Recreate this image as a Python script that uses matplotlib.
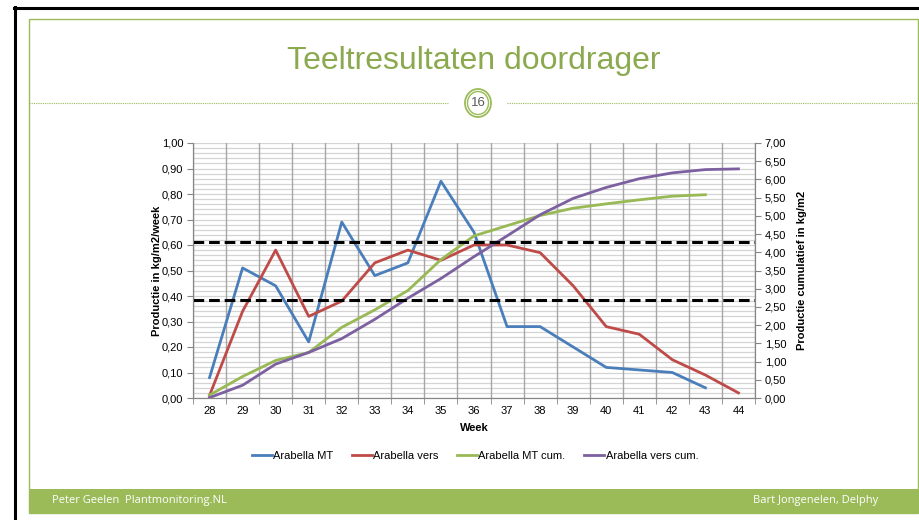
import numpy as np
import matplotlib.pyplot as plt
from matplotlib.patches import Rectangle, Ellipse
from matplotlib.lines import Line2D

# Données
weeks = [28, 29, 30, 31, 32, 33, 34, 35, 36, 37, 38, 39, 40, 41, 42, 43, 44]
mt = [0.08, 0.51, 0.44, 0.22, 0.69, 0.48, 0.53, 0.85, 0.65, 0.28, 0.28, 0.20, 0.12, 0.11, 0.10, 0.04]
vers = [0.01, 0.34, 0.58, 0.32, 0.38, 0.53, 0.58, 0.54, 0.60, 0.60, 0.57, 0.44, 0.28, 0.25, 0.15, 0.09, 0.02]
mt_cum = [0.08, 0.59, 1.03, 1.25, 1.94, 2.42, 2.95, 3.80, 4.45, 4.73, 5.01, 5.21, 5.33, 5.44, 5.54, 5.58]
vers_cum = [0.01, 0.35, 0.93, 1.25, 1.63, 2.16, 2.74, 3.28, 3.88, 4.45, 5.03, 5.48, 5.78, 6.02, 6.18, 6.27, 6.29]
ref_levels = [0.61, 0.385]   # lignes pointillées (axe gauche)

labels = ["Arabella MT", "Arabella vers", "Arabella MT cum.", "Arabella vers cum."]
colors = ["#4A7EBB", "#BE4B48", "#98B954", "#7D60A0"]

W, H = 919, 520
GREEN = "#9BBB59"
plt.rcParams['font.family'] = ['Liberation Sans', 'DejaVu Sans']

fig = plt.figure(figsize=(W/100, H/100), dpi=100)

def fx(x):
    return x / W

def fy(y):
    return 1 - y / H

# Cadre de la diapositive
fig.add_artist(Line2D([fx(14), 1], [fy(8), fy(8)], color="black", lw=2.2))
fig.add_artist(Line2D([fx(15), fx(15)], [fy(7), 0], color="black", lw=2.2))
fig.add_artist(Rectangle((fx(29), fy(513)), fx(918) - fx(29), fy(19.5) - fy(513),
                         fill=False, ec=GREEN, lw=1.0))
fig.add_artist(Rectangle((fx(29), fy(513)), fx(918) - fx(29), fy(489) - fy(513),
                         fc=GREEN, ec="none"))
fig.text(fx(52), fy(501), "Peter Geelen  Plantmonitoring.NL", color="white",
         fontsize=8, family=["Open Sans", "DejaVu Sans"], va="center")
fig.text(fx(878), fy(501), "Bart Jongenelen, Delphy", color="white",
         fontsize=8, family=["Open Sans", "DejaVu Sans"], va="center", ha="right")

# Titre
fig.text(fx(474), fy(61), "Teeltresultaten doordrager", color="#8BA94E", fontsize=23,
         ha="center", va="center")
fig.add_artist(Line2D([fx(29), fx(449)], [fy(103), fy(103)], color=GREEN, lw=0.8, ls=(0, (1, 1))))
fig.add_artist(Line2D([fx(507), fx(918)], [fy(103), fy(103)], color=GREEN, lw=0.8, ls=(0, (1, 1))))
fig.add_artist(Ellipse((fx(478), fy(103)), 26/W, 28/H, fill=False, ec=GREEN, lw=1.3))
fig.add_artist(Ellipse((fx(478), fy(103)), 21/W, 23/H, fill=False, ec=GREEN, lw=1.0))
fig.text(fx(478), fy(103), "16", color="#5A5A5A", fontsize=9.5, ha="center", va="center")

# Graphique
ax = fig.add_axes([fx(193), fy(398), fx(755) - fx(193), fy(143) - fy(398)])
ax2 = ax.twinx()

ax.set_xlim(27.5, 44.5)
ax.set_ylim(0, 1.0)
ax2.set_ylim(0, 7.0)

for y in np.arange(0, 1.001, 0.02):
    ax.axhline(y, color="#D4D4D4", lw=0.9, zorder=0)
for x in np.arange(27.5, 44.6, 1):
    ax.axvline(x, color="#A6A6A6", lw=1.0, zorder=0)

l1, = ax.plot(weeks[:len(mt)], mt, color=colors[0], lw=2)
l2, = ax.plot(weeks, vers, color=colors[1], lw=2)
l3, = ax2.plot(weeks[:len(mt_cum)], mt_cum, color=colors[2], lw=2)
l4, = ax2.plot(weeks, vers_cum, color=colors[3], lw=2)
for lev in ref_levels:
    ax2.axhline(lev * 7, color="black", lw=2.2, ls=(0, (3.5, 1.6)))

ax.set_yticks(np.arange(0, 1.001, 0.1))
ax.set_yticklabels([f"{v:.2f}".replace(".", ",") for v in np.arange(0, 1.001, 0.1)])
ax2.set_yticks(np.arange(0, 7.001, 0.5))
ax2.set_yticklabels([f"{v:.2f}".replace(".", ",") for v in np.arange(0, 7.001, 0.5)])
ax.set_xticks(weeks)
ax.set_xticks(np.arange(27.5, 44.6, 1), minor=True)
ax.tick_params(axis="x", which="major", length=0, labelsize=8, pad=6)
ax.tick_params(axis="x", which="minor", length=4, color="#868686")
ax.tick_params(axis="y", length=4, color="#868686", labelsize=8, pad=3)
ax2.tick_params(axis="y", length=4, color="#868686", labelsize=8, pad=3)

for a in (ax, ax2):
    a.spines["top"].set_visible(False)
    for s in ("left", "right", "bottom"):
        a.spines[s].set_color("#868686")

ax.set_xlabel("Week", fontsize=8, fontweight="bold", labelpad=5)
ax.set_ylabel("Productie in kg/m2/week", fontsize=8, fontweight="bold", labelpad=0)
ax2.set_ylabel("Productie cumulatief in kg/m2", fontsize=8, fontweight="bold", labelpad=8)

fig.legend([l1, l2, l3, l4], labels, loc="center", bbox_to_anchor=(fx(475), fy(456)),
           ncol=4, frameon=False, fontsize=8, handlelength=1.8, handletextpad=0.1,
           columnspacing=1.7)

fig.savefig("out.png", dpi=100)
